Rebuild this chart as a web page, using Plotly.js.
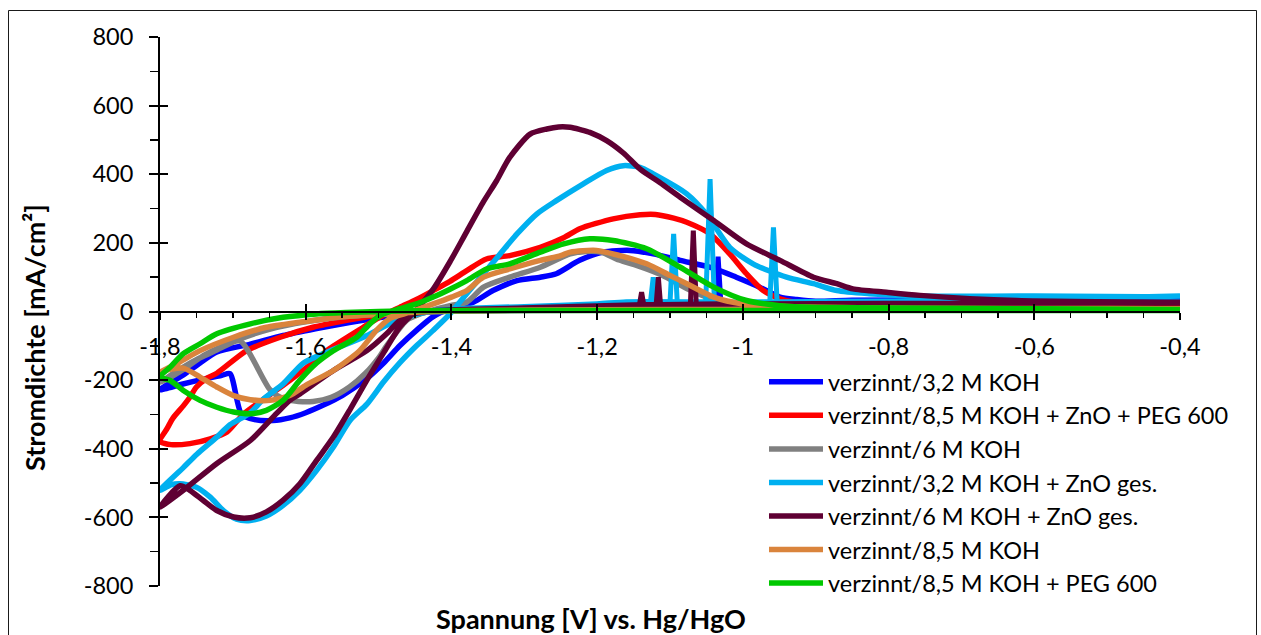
<!DOCTYPE html>
<html>
<head>
<meta charset="utf-8">
<script src="https://cdn.plot.ly/plotly-3.0.1.min.js"></script>
<style>
  html, body { margin: 0; padding: 0; background: #ffffff; }
  #chart { width: 1261px; height: 635px; }
</style>
</head>
<body>
<div id="chart"></div>
<script>
// ---------- data (voltage in V vs. Hg/HgO, current density in mA/cm²) ----------
const seriesNames = [
  'verzinnt/3,2 M KOH',
  'verzinnt/8,5 M KOH + ZnO + PEG 600',
  'verzinnt/6 M KOH',
  'verzinnt/3,2 M KOH + ZnO ges.',
  'verzinnt/6 M KOH + ZnO ges.',
  'verzinnt/8,5 M KOH',
  'verzinnt/8,5 M KOH + PEG 600'
];
const seriesColors = ['#0000FF', '#FF0000', '#808080', '#00B0F0', '#5F0033', '#DA843C', '#00C800'];

const blueV = [-0.40,-0.60,-0.80,-0.90,-1.00,-1.10,-1.20,-1.30,-1.40,-1.45,-1.50,-1.54,-1.585,-1.631,-1.676,-1.722,-1.745,-1.768,-1.80,
  -1.77,-1.74,-1.715,-1.704,-1.688,-1.67,-1.645,-1.622,-1.60,-1.575,-1.55,-1.516,-1.493,-1.471,-1.448,-1.425,-1.402,-1.37,-1.343,-1.31,-1.278,-1.256,-1.224,-1.192,-1.155,-1.123,-1.086,-1.040,-1.009,-0.977,-0.949,-0.926,-0.90,-0.85,-0.70,-0.55,-0.40];
const blueI = [30,28,27,25,20,14,10,6,2,-5,-18,-32,-50,-70,-95,-118,-150,-185,-228,
  -212,-197,-186,-181,-300,-315,-318,-310,-295,-272,-245,-195,-150,-100,-55,-15,8,27,61,90,100,110,149,173,178,168,149,126,100,71,42,35,30,33,33,33,33];
const blueSpikeV = [-1.030,-1.034,-1.038];
const blueSpikeI = [18,160,18];

const redV = [-0.40,-0.80,-1.20,-1.40,-1.45,-1.50,-1.544,-1.59,-1.635,-1.681,-1.722,-1.736,-1.75,-1.759,-1.768,-1.782,-1.79,-1.80,
  -1.785,-1.759,-1.731,-1.708,-1.686,-1.654,-1.622,-1.585,-1.567,-1.521,-1.497,-1.471,-1.448,-1.425,-1.402,-1.379,-1.352,-1.32,-1.278,-1.246,-1.224,-1.178,-1.141,-1.12,-1.095,-1.077,-1.045,-1.018,-0.995,-0.972,-0.949,-0.93,-0.80,-0.60,-0.40];
const redI = [8,7,5,2,0,-10,-26,-46,-75,-114,-180,-195,-220,-250,-275,-310,-340,-378,
  -388,-385,-371,-351,-300,-250,-201,-140,-108,-46,-15,12,35,61,88,119,153,163,187,215,241,270,282,283,272,260,226,168,110,61,37,28,23,20,17];

const grayV = [-0.40,-0.80,-1.20,-1.40,-1.45,-1.50,-1.55,-1.60,-1.65,-1.69,-1.722,-1.745,-1.768,-1.785,-1.80,
  -1.77,-1.74,-1.715,-1.69,-1.649,-1.63,-1.61,-1.59,-1.565,-1.54,-1.518,-1.50,-1.489,-1.475,-1.461,-1.44,-1.425,-1.402,-1.379,-1.356,-1.32,-1.278,-1.237,-1.215,-1.195,-1.17,-1.14,-1.11,-1.075,-1.04,-1.00,-0.95,-0.80,-0.40];
const grayI = [6,5,4,1,-3,-8,-16,-30,-52,-80,-112,-135,-162,-185,-208,
  -172,-128,-102,-86,-228,-255,-262,-262,-250,-220,-180,-135,-100,-60,-25,-5,5,17,27,71,100,129,168,175,173,150,130,105,65,35,18,12,9,8];

const lightBlueV = [-0.40,-0.50,-0.60,-0.80,-0.95,-1.00,-1.16,-1.20,-1.30,-1.39,-1.43,-1.475,-1.521,-1.567,-1.603,-1.631,-1.658,-1.676,-1.704,-1.722,-1.749,-1.768,-1.80,
  -1.785,-1.773,-1.75,-1.731,-1.713,-1.695,-1.676,-1.654,-1.631,-1.608,-1.585,-1.562,-1.539,-1.516,-1.493,-1.471,-1.448,-1.425,-1.402,-1.379,-1.356,-1.333,-1.310,-1.283,-1.256,-1.219,-1.187,-1.164,-1.141,-1.123,-1.077,-1.050,-1.018,-0.986,-0.940,-0.903,-0.871,-0.826,-0.757,-0.60,-0.40];
const lightBlueI = [45,40,33,30,28,27,28,22,14,8,0,-26,-75,-115,-150,-211,-255,-295,-330,-366,-415,-455,-521,
  -505,-502,-512,-541,-580,-605,-609,-596,-565,-521,-463,-395,-317,-270,-205,-150,-100,-55,-7,52,110,168,226,284,323,372,411,425,420,401,343,284,187,139,100,81,61,52,45,45,42];
const lightBlueSpikeV = [-0.953,-0.958,-0.963,null,-1.039,-1.045,-1.051,null,-1.090,-1.095,-1.100,null,-1.119,-1.123,-1.127];
const lightBlueSpikeI = [28,245,28,null,26,386,26,null,25,226,25,null,24,100,24];

const maroonV = [-0.40,-0.60,-0.80,-1.00,-1.06,-1.11,-1.15,-1.30,-1.42,-1.448,-1.471,-1.489,-1.516,-1.562,-1.608,-1.622,-1.64,-1.676,-1.722,-1.768,-1.80,
  -1.7725,-1.759,-1.741,-1.722,-1.699,-1.676,-1.654,-1.631,-1.608,-1.585,-1.562,-1.539,-1.516,-1.493,-1.471,-1.448,-1.425,-1.402,-1.379,-1.356,-1.338,-1.320,-1.292,-1.269,-1.253,-1.237,-1.223,-1.210,-1.187,-1.164,-1.141,-1.114,-1.086,-1.040,-0.995,-0.949,-0.903,-0.871,-0.849,-0.803,-0.757,-0.624,-0.40];
const maroonI = [25,24,23,22,21,20,19,10,3,-5,-26,-65,-114,-172,-240,-259,-297,-376,-443,-521,-570,
  -508,-521,-550,-580,-599,-601,-584,-550,-502,-434,-366,-285,-200,-120,-45,5,65,145,233,320,381,449,517,532,538,537,530,522,498,462,415,376,333,265,197,149,100,81,66,56,47,32,27];
const maroonSpikeV = [-1.064,-1.068,-1.072,null,-1.113,-1.116,-1.119,null,-1.136,-1.139,-1.142];
const maroonSpikeI = [21,236,21,null,20,100,20,null,19,56,19];

const orangeV = [-0.40,-0.80,-1.20,-1.40,-1.45,-1.50,-1.55,-1.608,-1.654,-1.699,-1.745,-1.777,-1.80,
  -1.785,-1.768,-1.745,-1.722,-1.699,-1.676,-1.649,-1.622,-1.60,-1.562,-1.526,-1.503,-1.484,-1.457,-1.425,-1.40,-1.379,-1.356,-1.32,-1.278,-1.25,-1.237,-1.201,-1.169,-1.132,-1.10,-1.077,-1.04,-1.00,-0.95,-0.80,-0.40];
const orangeI = [8,7,5,2,-2,-8,-15,-31,-46,-75,-114,-152,-177,
  -168,-165,-191,-220,-245,-257,-259,-245,-215,-172,-114,-55,-20,-2,22,42,61,100,124,149,163,173,178,163,139,105,81,42,22,15,10,8];

const greenV = [-0.40,-0.80,-1.20,-1.45,-1.50,-1.545,-1.585,-1.631,-1.676,-1.722,-1.745,-1.768,-1.786,-1.80,
  -1.786,-1.768,-1.745,-1.722,-1.699,-1.676,-1.654,-1.631,-1.608,-1.585,-1.562,-1.53,-1.512,-1.498,-1.484,-1.471,-1.448,-1.425,-1.402,-1.379,-1.352,-1.32,-1.278,-1.246,-1.210,-1.178,-1.132,-1.086,-1.040,-0.995,-0.949,-0.90,-0.60,-0.40];
const greenI = [3,3,3,2,0,-3,-7,-17,-36,-65,-94,-123,-162,-191,
  -201,-230,-259,-279,-293,-298,-288,-259,-200,-150,-114,-75,-36,-12,0,8,22,42,65,90,124,139,173,197,212,207,183,129,71,32,17,12,8,6];

const xTickVals = [-1.8,-1.6,-1.4,-1.2,-1.0,-0.8,-0.6,-0.4];
const xTickText = ['-1,8','-1,6','-1,4','-1,2','-1','-0,8','-0,6','-0,4'];
const yTickVals = [-800,-600,-400,-200,0,200,400,600,800];
const yTickText = ['-800','-600','-400','-200','0','200','400','600','800'];

const xTitle = 'Spannung [V] vs. Hg/HgO';
const yTitle = 'Stromdichte [mA/cm²]';

// ---------- traces ----------
const mainX = [blueV, redV, grayV, lightBlueV, maroonV, orangeV, greenV];
const mainY = [blueI, redI, grayI, lightBlueI, maroonI, orangeI, greenI];
const spikeX = [blueSpikeV, null, null, lightBlueSpikeV, maroonSpikeV, null, null];
const spikeY = [blueSpikeI, null, null, lightBlueSpikeI, maroonSpikeI, null, null];
const FONT = 'Lato, "Open Sans", "DejaVu Sans", sans-serif';
const LW = 5.5;

const traces = [];
mainX.forEach((x, i) => {
  traces.push({
    type: 'scatter', mode: 'lines',
    x: x, y: mainY[i],
    name: seriesNames[i], legendgroup: 'g' + i,
    line: { color: seriesColors[i], width: LW, shape: 'spline', smoothing: 0.7 },
    hoverinfo: 'x+y+name'
  });
  if (spikeX[i]) {
    traces.push({
      type: 'scatter', mode: 'lines',
      x: spikeX[i], y: spikeY[i],
      name: seriesNames[i], legendgroup: 'g' + i, showlegend: false,
      connectgaps: false,
      line: { color: seriesColors[i], width: LW - 0.5, shape: 'linear' },
      hoverinfo: 'x+y+name'
    });
  }
});
// empty trace so the overlay axes (inner half of the crossing ticks) are drawn
traces.push({ type: 'scatter', mode: 'lines', x: [], y: [], xaxis: 'x2', yaxis: 'y2', showlegend: false, hoverinfo: 'skip' });

const W = 1261, H = 635;
const mL = 160, mR = 81, mT = 37, mB = 49;
const pw = W - mL - mR, ph = H - mT - mB;
const px = v => (v - mL) / pw;          // pixel -> paper x
const py = v => (H - mB - v) / ph;      // pixel -> paper y

const layout = {
  width: W, height: H,
  margin: { l: mL, r: mR, t: mT, b: mB, pad: 0 },
  paper_bgcolor: '#ffffff',
  plot_bgcolor: 'rgba(0,0,0,0)',
  separators: ',.',
  font: { family: FONT, color: '#000000', size: 22 },
  showlegend: true,
  xaxis: {
    range: [-1.8, -0.4],
    anchor: 'free', position: 0.5,
    showline: true, linecolor: '#000000', linewidth: 2,
    showgrid: false, zeroline: false,
    tickmode: 'array', tickvals: xTickVals, ticktext: xTickText,
    ticks: 'outside', ticklen: 7, tickwidth: 2, tickcolor: '#000000',
    ticklabelstandoff: 7,
    tickfont: { family: FONT, size: 23.5, color: '#000000' },
    minor: { tickmode: 'linear', tick0: -1.8, dtick: 0.05, ticks: 'outside', ticklen: 5, tickwidth: 1.5, tickcolor: '#000000', showgrid: false },
    fixedrange: true
  },
  yaxis: {
    range: [-800, 800],
    anchor: 'x',
    showline: true, linecolor: '#000000', linewidth: 2,
    showgrid: false, zeroline: false,
    tickmode: 'array', tickvals: yTickVals, ticktext: yTickText,
    ticks: 'outside', ticklen: 9, tickwidth: 2, tickcolor: '#000000',
    ticklabelstandoff: 11,
    tickfont: { family: FONT, size: 23.5, color: '#000000' },
    minor: { tickmode: 'linear', tick0: -800, dtick: 100, ticks: 'outside', ticklen: 8, tickwidth: 1.5, tickcolor: '#000000', showgrid: false },
    fixedrange: true
  },
  xaxis2: {
    range: [-1.8, -0.4], overlaying: 'x', anchor: 'free', position: 0.5,
    showline: false, showgrid: false, zeroline: false,
    tickmode: 'array', tickvals: xTickVals, ticks: 'inside', ticklen: 8, tickwidth: 2, tickcolor: '#000000',
    showticklabels: false, fixedrange: true
  },
  yaxis2: {
    range: [-800, 800], overlaying: 'y', anchor: 'x',
    showline: false, showgrid: false, zeroline: false,
    tickmode: 'array', tickvals: yTickVals, ticks: 'inside', ticklen: 8, tickwidth: 2, tickcolor: '#000000',
    showticklabels: false, fixedrange: true
  },
  legend: {
    x: px(764), y: py(360), xanchor: 'left', yanchor: 'top',
    bgcolor: 'rgba(255,255,255,0)', borderwidth: 0,
    font: { family: FONT, size: 23.5, color: '#000000' },
    itemwidth: 54, tracegroupgap: 4,
    traceorder: 'normal'
  },
  annotations: [
    { text: yTitle, xref: 'paper', yref: 'paper', x: px(34), y: py(338), textangle: -90,
      showarrow: false, xanchor: 'center', yanchor: 'middle',
      font: { family: FONT, size: 27, color: '#000000', weight: 'bold' } },
    { text: xTitle, xref: 'paper', yref: 'paper', x: px(591), y: py(618),
      showarrow: false, xanchor: 'center', yanchor: 'middle',
      font: { family: FONT, size: 27, color: '#000000', weight: 'bold' } }
  ],
  shapes: [
    { type: 'rect', xref: 'paper', yref: 'paper', layer: 'below',
      x0: px(8.5), x1: px(1256.5), y0: py(650), y1: py(10.5),
      line: { color: '#1a1a1a', width: 1 }, fillcolor: 'rgba(0,0,0,0)' }
  ]
};

Plotly.newPlot('chart', traces, layout, { displayModeBar: false, staticPlot: true });
</script>
</body>
</html>
